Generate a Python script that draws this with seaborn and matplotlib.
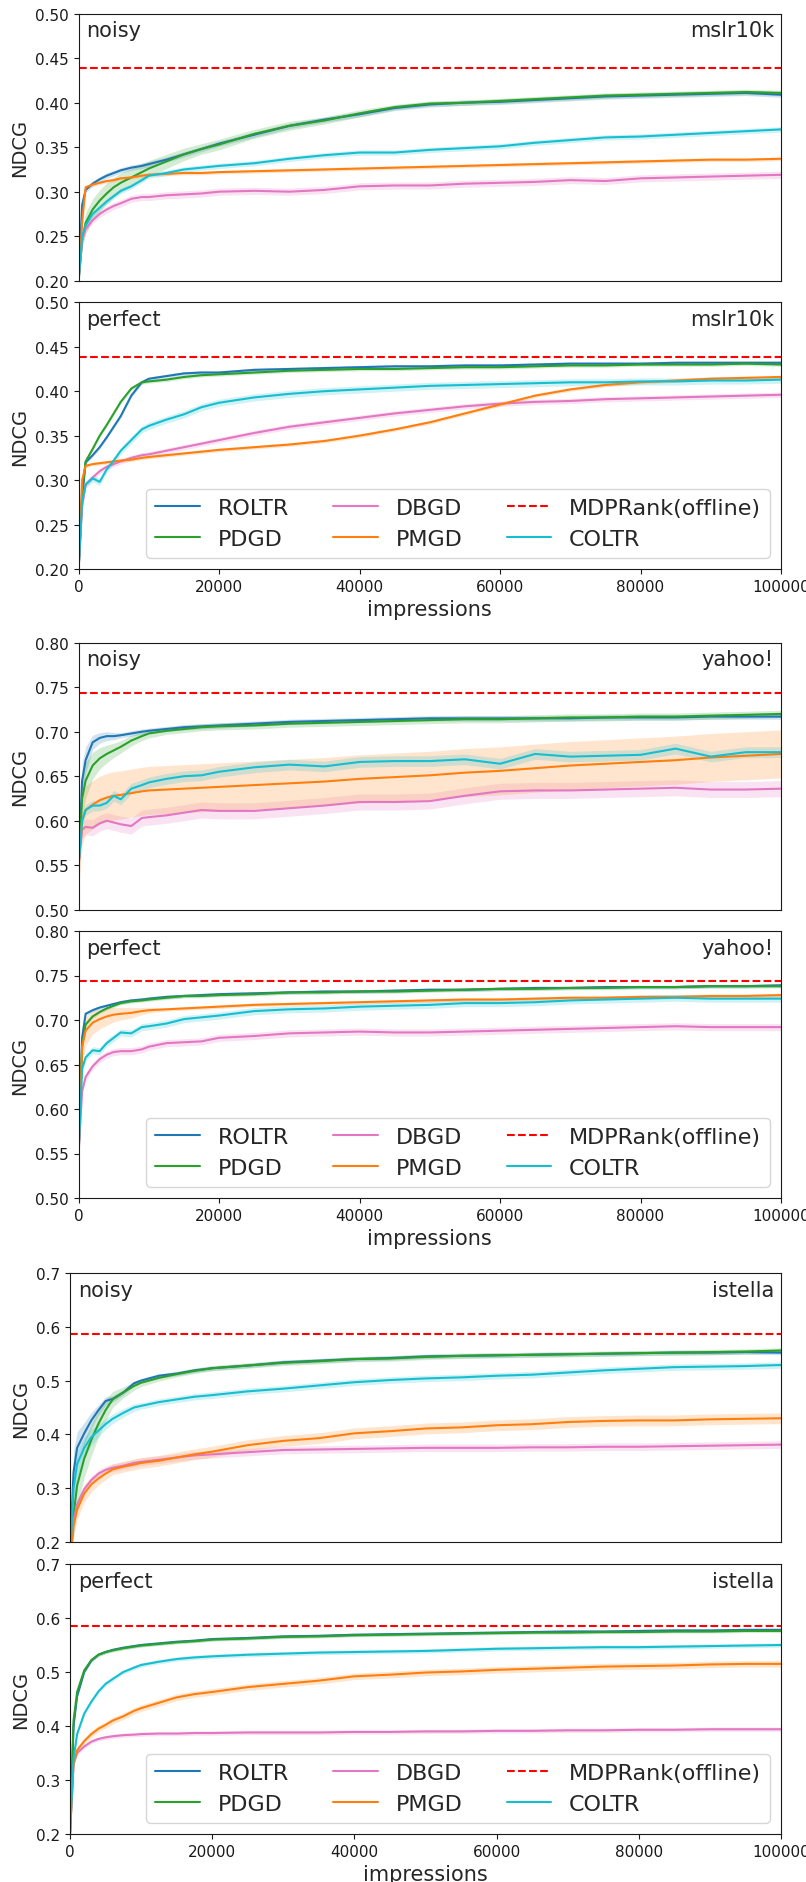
import numpy as np
import matplotlib
matplotlib.use("Agg")
import matplotlib.pyplot as plt
import seaborn as sns
from matplotlib.ticker import FormatStrFormatter

sns.set_style("ticks", {"axes.edgecolor": "0.1", "xtick.color": "0.1", "ytick.color": "0.1"})
plt.rcParams["font.family"] = ["DejaVu Sans"]

#%% data
impressions = [0, 500, 1000, 2000, 3000, 4000, 5000, 6000, 7500, 9000, 10000, 12500,
               15000, 17500, 20000, 25000, 30000, 35000, 40000, 45000, 50000, 55000,
               60000, 65000, 70000, 75000, 80000, 85000, 90000, 95000, 100000]

methods = ["ROLTR", "PDGD", "DBGD", "PMGD", "COLTR"]
colors = {"ROLTR": "#1f77b4", "PDGD": "#2ca02c", "DBGD": "#e377c2",
          "PMGD": "#ff7f0e", "COLTR": "#17becf"}

# mslr10k, noisy
mslr_noisy_roltr = [0.20, 0.285, 0.302, 0.309, 0.314, 0.318, 0.321, 0.324, 0.327, 0.329, 0.331, 0.336,
                    0.342, 0.348, 0.354, 0.364, 0.374, 0.381, 0.387, 0.394, 0.398, 0.400,
                    0.401, 0.403, 0.405, 0.407, 0.408, 0.409, 0.410, 0.411, 0.409]
mslr_noisy_pdgd = [0.20, 0.245, 0.265, 0.280, 0.290, 0.298, 0.305, 0.310, 0.316, 0.322, 0.326, 0.334,
                   0.342, 0.348, 0.353, 0.365, 0.374, 0.380, 0.388, 0.395, 0.399, 0.400,
                   0.402, 0.404, 0.406, 0.408, 0.409, 0.410, 0.411, 0.412, 0.411]
mslr_noisy_dbgd = [0.20, 0.245, 0.258, 0.268, 0.275, 0.280, 0.284, 0.287, 0.292, 0.294, 0.294, 0.296,
                   0.297, 0.298, 0.300, 0.301, 0.300, 0.302, 0.306, 0.307, 0.307, 0.309,
                   0.310, 0.311, 0.313, 0.312, 0.315, 0.316, 0.317, 0.318, 0.319]
mslr_noisy_pmgd = [0.20, 0.265, 0.305, 0.308, 0.310, 0.312, 0.313, 0.315, 0.316, 0.318, 0.319, 0.320,
                   0.321, 0.321, 0.322, 0.323, 0.324, 0.325, 0.326, 0.327, 0.328, 0.329,
                   0.330, 0.331, 0.332, 0.333, 0.334, 0.335, 0.336, 0.336, 0.337]
mslr_noisy_coltr = [0.20, 0.250, 0.262, 0.275, 0.282, 0.289, 0.295, 0.301, 0.306, 0.313, 0.318, 0.321,
                    0.325, 0.327, 0.329, 0.332, 0.337, 0.341, 0.344, 0.344, 0.347, 0.349,
                    0.351, 0.355, 0.358, 0.361, 0.362, 0.364, 0.366, 0.368, 0.370]
mslr_noisy_band = [0.003, [0, 0.010, 0.012, 0.012, 0.012, 0.012, 0.011, 0.011, 0.010, 0.010, 0.009,
                           0.008, 0.007, 0.006, 0.006, 0.005, 0.005, 0.004, 0.004] + [0.003] * 12,
                   0.004, 0.002, 0.003]

# mslr10k, perfect
mslr_perfect_roltr = [0.20, 0.280, 0.320, 0.328, 0.337, 0.348, 0.360, 0.372, 0.395, 0.410, 0.414, 0.417,
                      0.420, 0.421, 0.421, 0.424, 0.425, 0.426, 0.427, 0.428, 0.428, 0.429,
                      0.429, 0.430, 0.431, 0.431, 0.431, 0.432, 0.432, 0.432, 0.432]
mslr_perfect_pdgd = [0.20, 0.285, 0.321, 0.335, 0.350, 0.362, 0.375, 0.388, 0.403, 0.410, 0.411, 0.413,
                     0.416, 0.418, 0.419, 0.421, 0.423, 0.424, 0.425, 0.425, 0.426, 0.427,
                     0.427, 0.428, 0.429, 0.429, 0.430, 0.430, 0.430, 0.431, 0.430]
mslr_perfect_dbgd = [0.20, 0.270, 0.295, 0.303, 0.310, 0.315, 0.318, 0.321, 0.325, 0.328, 0.329, 0.333,
                     0.337, 0.341, 0.345, 0.353, 0.360, 0.365, 0.370, 0.375, 0.379, 0.383,
                     0.386, 0.388, 0.389, 0.391, 0.392, 0.393, 0.394, 0.395, 0.396]
mslr_perfect_pmgd = [0.20, 0.300, 0.316, 0.318, 0.319, 0.320, 0.321, 0.322, 0.323, 0.325, 0.326, 0.328,
                     0.330, 0.332, 0.334, 0.337, 0.340, 0.344, 0.350, 0.357, 0.365, 0.375,
                     0.385, 0.395, 0.402, 0.407, 0.410, 0.412, 0.414, 0.415, 0.416]
mslr_perfect_coltr = [0.20, 0.275, 0.295, 0.302, 0.298, 0.312, 0.322, 0.333, 0.345, 0.357, 0.361, 0.368,
                      0.374, 0.382, 0.387, 0.393, 0.397, 0.400, 0.402, 0.404, 0.406, 0.407,
                      0.408, 0.409, 0.410, 0.410, 0.411, 0.411, 0.412, 0.412, 0.413]
mslr_perfect_band = [0.002, 0.002, 0.003, 0.002, 0.004]

# yahoo!, noisy
yahoo_noisy_roltr = [0.55, 0.645, 0.668, 0.688, 0.693, 0.695, 0.695, 0.696, 0.698, 0.700, 0.701, 0.703,
                     0.705, 0.706, 0.707, 0.709, 0.711, 0.712, 0.713, 0.714, 0.715, 0.715,
                     0.715, 0.715, 0.715, 0.716, 0.716, 0.716, 0.717, 0.717, 0.717]
yahoo_noisy_pdgd = [0.55, 0.625, 0.645, 0.662, 0.670, 0.675, 0.679, 0.683, 0.690, 0.695, 0.698, 0.701,
                    0.703, 0.705, 0.706, 0.707, 0.709, 0.710, 0.711, 0.712, 0.713, 0.714,
                    0.714, 0.715, 0.716, 0.716, 0.717, 0.717, 0.718, 0.719, 0.720]
yahoo_noisy_dbgd = [0.55, 0.590, 0.593, 0.592, 0.597, 0.600, 0.598, 0.596, 0.594, 0.603, 0.604, 0.606,
                    0.609, 0.612, 0.611, 0.611, 0.614, 0.617, 0.621, 0.621, 0.622, 0.628,
                    0.633, 0.634, 0.634, 0.635, 0.636, 0.637, 0.635, 0.635, 0.636]
yahoo_noisy_pmgd = [0.55, 0.600, 0.612, 0.618, 0.623, 0.626, 0.628, 0.629, 0.631, 0.633, 0.634, 0.635,
                    0.636, 0.637, 0.638, 0.640, 0.642, 0.644, 0.647, 0.649, 0.651, 0.654,
                    0.656, 0.659, 0.662, 0.664, 0.666, 0.668, 0.671, 0.673, 0.675]
yahoo_noisy_coltr = [0.55, 0.600, 0.612, 0.617, 0.617, 0.620, 0.628, 0.624, 0.636, 0.640, 0.643, 0.647,
                     0.650, 0.651, 0.655, 0.660, 0.663, 0.661, 0.666, 0.667, 0.667, 0.669,
                     0.664, 0.675, 0.672, 0.673, 0.674, 0.681, 0.672, 0.677, 0.677]
yahoo_noisy_band = [[0, 0.020, 0.015, 0.008, 0.006, 0.005, 0.004] + [0.003] * 24,
                    [0, 0.025, 0.020, 0.015, 0.012, 0.010, 0.008, 0.007, 0.006, 0.005, 0.005] + [0.004] * 20,
                    0.009, 0.027, 0.006]

# yahoo!, perfect
yahoo_perfect_roltr = [0.55, 0.680, 0.707, 0.711, 0.714, 0.716, 0.718, 0.720, 0.722, 0.723, 0.724, 0.726,
                       0.727, 0.728, 0.729, 0.730, 0.731, 0.732, 0.732, 0.733, 0.734, 0.734,
                       0.735, 0.736, 0.736, 0.737, 0.737, 0.737, 0.738, 0.738, 0.739]
yahoo_perfect_pdgd = [0.55, 0.670, 0.695, 0.704, 0.709, 0.713, 0.716, 0.719, 0.721, 0.722, 0.723, 0.725,
                      0.727, 0.727, 0.728, 0.729, 0.731, 0.731, 0.732, 0.732, 0.733, 0.734,
                      0.735, 0.735, 0.736, 0.736, 0.737, 0.737, 0.738, 0.738, 0.738]
yahoo_perfect_dbgd = [0.55, 0.620, 0.636, 0.648, 0.656, 0.661, 0.664, 0.665, 0.665, 0.667, 0.670, 0.674,
                      0.675, 0.676, 0.680, 0.682, 0.685, 0.686, 0.687, 0.686, 0.686, 0.687,
                      0.688, 0.689, 0.690, 0.691, 0.692, 0.693, 0.692, 0.692, 0.692]
yahoo_perfect_pmgd = [0.55, 0.670, 0.688, 0.697, 0.701, 0.704, 0.706, 0.707, 0.708, 0.710, 0.711, 0.712,
                      0.713, 0.714, 0.715, 0.717, 0.718, 0.719, 0.720, 0.721, 0.722, 0.723,
                      0.723, 0.724, 0.725, 0.725, 0.726, 0.726, 0.727, 0.727, 0.728]
yahoo_perfect_coltr = [0.55, 0.645, 0.658, 0.666, 0.665, 0.674, 0.680, 0.686, 0.685, 0.692, 0.693, 0.696,
                       0.701, 0.703, 0.705, 0.710, 0.712, 0.713, 0.715, 0.716, 0.717, 0.719,
                       0.719, 0.720, 0.722, 0.723, 0.724, 0.725, 0.724, 0.724, 0.724]
yahoo_perfect_band = [0.002, 0.002, 0.004,
                      [0, 0.020, 0.016, 0.013, 0.011, 0.010, 0.008, 0.007, 0.006, 0.004, 0.003] + [0.002] * 20,
                      0.004]

# istella, noisy
istella_noisy_roltr = [0.18, 0.330, 0.375, 0.402, 0.426, 0.445, 0.462, 0.466, 0.478, 0.495, 0.500, 0.509,
                       0.513, 0.519, 0.523, 0.528, 0.534, 0.537, 0.540, 0.542, 0.545, 0.546,
                       0.547, 0.548, 0.549, 0.550, 0.551, 0.552, 0.552, 0.553, 0.552]
istella_noisy_pdgd = [0.15, 0.250, 0.305, 0.355, 0.390, 0.420, 0.445, 0.465, 0.478, 0.490, 0.496, 0.505,
                      0.512, 0.518, 0.523, 0.528, 0.533, 0.536, 0.540, 0.541, 0.544, 0.546,
                      0.547, 0.548, 0.549, 0.550, 0.551, 0.552, 0.553, 0.554, 0.556]
istella_noisy_dbgd = [0.17, 0.240, 0.270, 0.298, 0.315, 0.327, 0.334, 0.338, 0.342, 0.347, 0.349, 0.353,
                      0.357, 0.361, 0.363, 0.367, 0.371, 0.372, 0.373, 0.374, 0.375, 0.375,
                      0.375, 0.376, 0.376, 0.377, 0.377, 0.378, 0.379, 0.380, 0.381]
istella_noisy_pmgd = [0.16, 0.230, 0.260, 0.290, 0.307, 0.318, 0.327, 0.335, 0.340, 0.344, 0.347, 0.351,
                      0.357, 0.363, 0.368, 0.380, 0.388, 0.393, 0.402, 0.406, 0.411, 0.413,
                      0.417, 0.419, 0.423, 0.425, 0.426, 0.426, 0.428, 0.429, 0.430]
istella_noisy_coltr = [0.17, 0.300, 0.345, 0.375, 0.395, 0.407, 0.419, 0.429, 0.440, 0.450, 0.453, 0.460,
                       0.465, 0.470, 0.473, 0.480, 0.485, 0.491, 0.497, 0.501, 0.504, 0.506,
                       0.509, 0.511, 0.515, 0.519, 0.522, 0.525, 0.526, 0.527, 0.529]
istella_noisy_band = [[0, 0.040, 0.030, 0.020, 0.015, 0.010, 0.008, 0.006, 0.005] + [0.004] * 22,
                      [0, 0.040, 0.040, 0.035, 0.030, 0.025, 0.020, 0.015, 0.010, 0.008, 0.007, 0.006] + [0.005] * 19,
                      0.007,
                      [0, 0.020, 0.018, 0.016, 0.014, 0.012, 0.011] + [0.010] * 24,
                      [0, 0.030, 0.025, 0.020, 0.015, 0.012, 0.010, 0.009, 0.008, 0.007] + [0.006] * 21]

# istella, perfect
istella_perfect_roltr = [0.20, 0.400, 0.455, 0.500, 0.521, 0.532, 0.537, 0.541, 0.545, 0.548, 0.550, 0.553,
                         0.556, 0.558, 0.561, 0.563, 0.566, 0.567, 0.569, 0.570, 0.571, 0.572,
                         0.573, 0.574, 0.575, 0.575, 0.576, 0.577, 0.577, 0.578, 0.578]
istella_perfect_pdgd = [0.20, 0.410, 0.463, 0.503, 0.522, 0.532, 0.537, 0.540, 0.544, 0.547, 0.549, 0.552,
                        0.555, 0.557, 0.560, 0.562, 0.565, 0.566, 0.568, 0.569, 0.570, 0.571,
                        0.572, 0.573, 0.573, 0.574, 0.574, 0.575, 0.575, 0.576, 0.576]
istella_perfect_dbgd = [0.20, 0.330, 0.350, 0.362, 0.371, 0.376, 0.379, 0.381, 0.383, 0.384, 0.385, 0.386,
                        0.386, 0.387, 0.387, 0.388, 0.388, 0.388, 0.389, 0.389, 0.390, 0.390,
                        0.391, 0.391, 0.392, 0.392, 0.393, 0.393, 0.394, 0.394, 0.394]
istella_perfect_pmgd = [0.20, 0.330, 0.355, 0.372, 0.385, 0.395, 0.402, 0.410, 0.418, 0.428, 0.433, 0.443,
                        0.453, 0.459, 0.463, 0.472, 0.478, 0.484, 0.492, 0.495, 0.499, 0.501,
                        0.504, 0.506, 0.508, 0.510, 0.511, 0.512, 0.514, 0.515, 0.515]
istella_perfect_coltr = [0.20, 0.340, 0.385, 0.423, 0.445, 0.464, 0.478, 0.487, 0.500, 0.508, 0.513, 0.519,
                         0.524, 0.527, 0.529, 0.532, 0.534, 0.536, 0.537, 0.538, 0.539, 0.541,
                         0.543, 0.544, 0.545, 0.546, 0.546, 0.547, 0.548, 0.549, 0.550]
istella_perfect_band = [0.003, 0.003, 0.004, 0.006, 0.004]

mdprank = {"mslr10k": 0.4385, "yahoo!": 0.744, "istella": 0.586}

#%% panels
panels = [
    ("noisy", "mslr10k", [mslr_noisy_roltr, mslr_noisy_pdgd, mslr_noisy_dbgd, mslr_noisy_pmgd, mslr_noisy_coltr], mslr_noisy_band),
    ("perfect", "mslr10k", [mslr_perfect_roltr, mslr_perfect_pdgd, mslr_perfect_dbgd, mslr_perfect_pmgd, mslr_perfect_coltr], mslr_perfect_band),
    ("noisy", "yahoo!", [yahoo_noisy_roltr, yahoo_noisy_pdgd, yahoo_noisy_dbgd, yahoo_noisy_pmgd, yahoo_noisy_coltr], yahoo_noisy_band),
    ("perfect", "yahoo!", [yahoo_perfect_roltr, yahoo_perfect_pdgd, yahoo_perfect_dbgd, yahoo_perfect_pmgd, yahoo_perfect_coltr], yahoo_perfect_band),
    ("noisy", "istella", [istella_noisy_roltr, istella_noisy_pdgd, istella_noisy_dbgd, istella_noisy_pmgd, istella_noisy_coltr], istella_noisy_band),
    ("perfect", "istella", [istella_perfect_roltr, istella_perfect_pdgd, istella_perfect_dbgd, istella_perfect_pmgd, istella_perfect_coltr], istella_perfect_band),
]

ylims = {"mslr10k": (0.20, 0.50, 0.05, "%.2f"), "yahoo!": (0.50, 0.80, 0.05, "%.2f"),
         "istella": (0.2, 0.7, 0.1, "%.1f")}

# axes boxes in pixels: left, top, right, bottom
W, H = 806, 1883
boxes = [(78.6, 14.7, 781, 281.7), (78.6, 303.3, 781, 570),
         (78.6, 643.7, 781, 910.7), (78.6, 932, 781, 1199),
         (70, 1274, 781, 1543), (70, 1565, 781, 1835)]

fig = plt.figure(figsize=(W / 100, H / 100), dpi=100)
x = np.array(impressions)

for i, (mode, dataset, series, bands) in enumerate(panels):
    l, t, r, b = boxes[i]
    ax = fig.add_axes([l / W, 1 - b / H, (r - l) / W, (b - t) / H])
    handles = {}
    for name, vals, band in zip(methods, series, bands):
        y = np.array(vals)
        hw = np.array(band) if np.ndim(band) else np.full(len(y), band)
        ax.fill_between(x, y - hw, y + hw, color=colors[name], alpha=0.2, lw=0)
        sns.lineplot(x=x, y=y, color=colors[name], lw=1.5, ax=ax, label=name, legend=False)
        handles[name] = ax.lines[-1]
    handles["MDPRank(offline)"] = ax.axhline(mdprank[dataset], color="red", ls="--", lw=1.5)

    lo, hi, step, fmt = ylims[dataset]
    ax.set_ylim(lo, hi)
    ax.set_yticks(np.arange(lo, hi + step / 2, step))
    ax.yaxis.set_major_formatter(FormatStrFormatter(fmt))
    ax.set_xlim(0, 100000)
    ax.tick_params(labelsize=11)
    ax.set_ylabel("NDCG", fontsize=14)

    ax.text(0.011, 0.975, mode, transform=ax.transAxes, ha="left", va="top", fontsize=15)
    ax.text(0.99, 0.975, dataset, transform=ax.transAxes, ha="right", va="top", fontsize=15)

    if mode == "noisy":
        ax.tick_params(axis="x", bottom=False, labelbottom=False)
        ax.set_xlabel("")
    else:
        ax.set_xticks([0, 20000, 40000, 60000, 80000, 100000])
        ax.set_xlabel("impressions", fontsize=15)
        order = ["ROLTR", "PDGD", "DBGD", "PMGD", "MDPRank(offline)", "COLTR"]
        ax.legend([handles[k] for k in order], order, ncol=3, loc="lower right", fontsize=16)

plt.savefig("out.png", dpi=100)
